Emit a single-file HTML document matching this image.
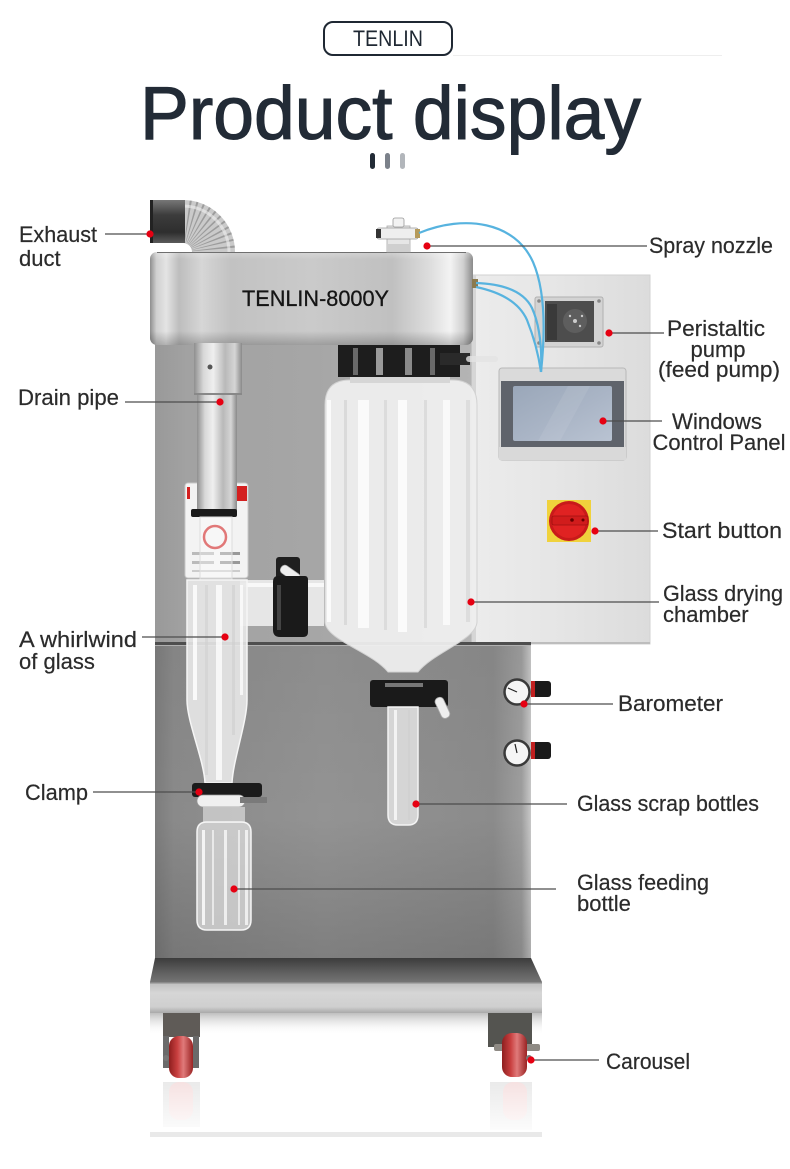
<!DOCTYPE html>
<html><head><meta charset="utf-8">
<style>
html,body{margin:0;padding:0;background:#fff;}
svg{display:block;}
</style></head><body>
<svg width="790" height="1169" viewBox="0 0 790 1169" xmlns="http://www.w3.org/2000/svg" font-family="'Liberation Sans', sans-serif">
<defs>
 <linearGradient id="lowerBody" x1="0" x2="1" y1="0" y2="0">
   <stop offset="0" stop-color="#7c7c7c"/>
   <stop offset="0.05" stop-color="#8a8a8a"/>
   <stop offset="0.45" stop-color="#939393"/>
   <stop offset="0.9" stop-color="#8b8b8b"/>
   <stop offset="0.975" stop-color="#9e9e9e"/>
   <stop offset="1" stop-color="#c8c8c8"/>
 </linearGradient>
 <linearGradient id="lowerShade" x1="0" x2="0" y1="0" y2="1">
   <stop offset="0" stop-color="#000" stop-opacity="0.04"/>
   <stop offset="0.55" stop-color="#000" stop-opacity="0"/>
   <stop offset="1" stop-color="#000" stop-opacity="0.14"/>
 </linearGradient>
 <linearGradient id="upperBody" x1="0" x2="1">
   <stop offset="0" stop-color="#999"/>
   <stop offset="0.1" stop-color="#a2a2a2"/>
   <stop offset="0.5" stop-color="#a6a6a6"/>
   <stop offset="1" stop-color="#b4b4b4"/>
 </linearGradient>
 <linearGradient id="panel" x1="0" x2="1">
   <stop offset="0" stop-color="#ececec"/>
   <stop offset="0.5" stop-color="#e5e5e5"/>
   <stop offset="1" stop-color="#dcdcdc"/>
 </linearGradient>
 <linearGradient id="head" x1="0" x2="1">
   <stop offset="0" stop-color="#8e8e8e"/>
   <stop offset="0.02" stop-color="#d0d0d0"/>
   <stop offset="0.05" stop-color="#e4e4e4"/>
   <stop offset="0.09" stop-color="#bdbdbd"/>
   <stop offset="0.16" stop-color="#d6d6d6"/>
   <stop offset="0.25" stop-color="#c2c2c2"/>
   <stop offset="0.5" stop-color="#cacaca"/>
   <stop offset="0.75" stop-color="#c0c0c0"/>
   <stop offset="0.87" stop-color="#dedede"/>
   <stop offset="0.93" stop-color="#f3f3f3"/>
   <stop offset="0.97" stop-color="#d0d0d0"/>
   <stop offset="1" stop-color="#8a8a8a"/>
 </linearGradient>
 <linearGradient id="headV" x1="0" x2="0" y1="0" y2="1">
   <stop offset="0" stop-color="#fff" stop-opacity="0.25"/>
   <stop offset="0.08" stop-color="#fff" stop-opacity="0"/>
   <stop offset="0.85" stop-color="#000" stop-opacity="0"/>
   <stop offset="1" stop-color="#000" stop-opacity="0.22"/>
 </linearGradient>
 <linearGradient id="pipe" x1="0" x2="1">
   <stop offset="0" stop-color="#8f8f8f"/>
   <stop offset="0.2" stop-color="#d8d8d8"/>
   <stop offset="0.4" stop-color="#efefef"/>
   <stop offset="0.65" stop-color="#b9b9b9"/>
   <stop offset="0.85" stop-color="#d5d5d5"/>
   <stop offset="1" stop-color="#8a8a8a"/>
 </linearGradient>
 <linearGradient id="duct" x1="0" x2="0" y1="0" y2="1">
   <stop offset="0" stop-color="#777"/>
   <stop offset="0.35" stop-color="#3c3c3c"/>
   <stop offset="0.75" stop-color="#2e2e2e"/>
   <stop offset="1" stop-color="#5a5a5a"/>
 </linearGradient>
 <linearGradient id="rim" x1="0" x2="0" y1="0" y2="1">
   <stop offset="0" stop-color="#3c3c3c"/>
   <stop offset="0.5" stop-color="#5a5a5a"/>
   <stop offset="1" stop-color="#747474"/>
 </linearGradient>
 <linearGradient id="trayFront" x1="0" x2="0" y1="0" y2="1">
   <stop offset="0" stop-color="#bdbdbd"/>
   <stop offset="0.35" stop-color="#d6d6d6"/>
   <stop offset="0.8" stop-color="#cfcfcf"/>
   <stop offset="1" stop-color="#a9a9a9"/>
 </linearGradient>
 <linearGradient id="trayShadow" x1="0" x2="0" y1="0" y2="1">
   <stop offset="0" stop-color="#8a8a8a" stop-opacity="0.55"/>
   <stop offset="1" stop-color="#fff" stop-opacity="0"/>
 </linearGradient>
 <linearGradient id="screen" x1="0" x2="1" y1="0" y2="1">
   <stop offset="0" stop-color="#9aa7b9"/>
   <stop offset="0.55" stop-color="#aab5c6"/>
   <stop offset="1" stop-color="#b9c3d2"/>
 </linearGradient>
 <linearGradient id="wheel" x1="0" x2="1">
   <stop offset="0" stop-color="#8e1e1e"/>
   <stop offset="0.35" stop-color="#c94040"/>
   <stop offset="0.6" stop-color="#e07a7a"/>
   <stop offset="1" stop-color="#9a2323"/>
 </linearGradient>
 <linearGradient id="refl" x1="0" x2="0" y1="0" y2="1">
   <stop offset="0" stop-color="#fff" stop-opacity="0.2"/>
   <stop offset="1" stop-color="#fff" stop-opacity="0.95"/>
 </linearGradient>
</defs>

<!-- ===== Header ===== -->
<rect x="324" y="22" width="128" height="33" rx="9" fill="#fff" stroke="#1f2833" stroke-width="2"/>
<line x1="453" y1="55.5" x2="722" y2="55.5" stroke="#eeeeee" stroke-width="1"/>
<text x="353" y="46" font-size="22" fill="#1f2833" textLength="70" lengthAdjust="spacingAndGlyphs">TENLIN</text>
<text x="140" y="139" font-size="75" fill="#222b36" stroke="#222b36" stroke-width="1.1" textLength="501" lengthAdjust="spacingAndGlyphs">Product display</text>
<rect x="370" y="153" width="5" height="16" rx="2.5" fill="#222b36"/>
<rect x="385" y="153" width="5" height="16" rx="2.5" fill="#7b818a"/>
<rect x="400" y="153" width="5" height="16" rx="2.5" fill="#b2b6bb"/>

<!-- ===== Reflections ===== -->
<g opacity="0.22">
  <rect x="163" y="1082" width="37" height="45" fill="#888"/>
  <rect x="169" y="1082" width="24" height="38" rx="10" fill="#c55"/>
  <rect x="490" y="1082" width="42" height="48" fill="#888"/>
  <rect x="503" y="1082" width="24" height="38" rx="10" fill="#c55"/>
</g>
<rect x="150" y="1080" width="392" height="55" fill="url(#refl)"/>
<rect x="150" y="1132" width="392" height="5" fill="#e9e9e9"/>

<!-- ===== Body ===== -->
<rect x="155" y="343" width="320" height="302" fill="url(#upperBody)"/>
<rect x="472" y="275" width="178" height="369" fill="url(#panel)" stroke="#d2d2d2" stroke-width="1"/>
<rect x="472" y="275" width="4" height="369" fill="#d6d6d6"/>
<rect x="472" y="642" width="178" height="2" fill="#bdbdbd"/>
<rect x="155" y="644" width="376" height="316" fill="url(#lowerBody)"/>
<rect x="155" y="644" width="376" height="316" fill="url(#lowerShade)"/>
<rect x="155" y="642" width="376" height="3" fill="#4e4e4e"/>
<rect x="155" y="645" width="376" height="1" fill="#b0b0b0"/>

<!-- tray -->
<polygon points="155,958 531,958 542,982 150,982" fill="url(#rim)"/>
<rect x="150" y="982" width="392" height="31" fill="url(#trayFront)"/>
<rect x="150" y="982" width="392" height="1.5" fill="#8a8a8a"/>
<rect x="150" y="1013" width="392" height="22" fill="url(#trayShadow)"/>

<!-- casters -->
<rect x="163" y="1013" width="37" height="24" fill="#5f5b57"/>
<rect x="163" y="1036" width="6" height="32" fill="#6a6a6a"/>
<rect x="193" y="1036" width="6" height="32" fill="#6a6a6a"/>
<rect x="169" y="1036" width="24" height="42" rx="10" fill="url(#wheel)"/>
<circle cx="166" cy="1058" r="3" fill="#777"/>
<rect x="488" y="1013" width="44" height="34" fill="#545450"/>
<rect x="494" y="1044" width="46" height="7" rx="2" fill="#8e8a84"/>
<rect x="502" y="1033" width="25" height="44" rx="10" fill="url(#wheel)"/>
<circle cx="529" cy="1058" r="3" fill="#777"/>

<!-- ===== Exhaust duct & hose ===== -->
<path d="M183,221.5 A30.5,30.5 0 0 1 213.5,252" fill="none" stroke="#cacaca" stroke-width="43"/>
<path d="M183,221.5 A30.5,30.5 0 0 1 213.5,252" fill="none" stroke="#6e6e6e" stroke-width="43" stroke-dasharray="1.2 2.8" opacity="0.5"/>
<path d="M183,206 A46,46 0 0 1 229,252" fill="none" stroke="#eee" stroke-width="3" opacity="0.6"/>
<rect x="150" y="200" width="35" height="43" fill="url(#duct)"/>
<rect x="150" y="200" width="3" height="43" fill="#222"/>

<!-- ===== Head ===== -->
<rect x="150" y="252" width="323" height="93" rx="7" fill="url(#head)"/>
<rect x="150" y="252" width="323" height="93" rx="7" fill="url(#headV)"/>
<path d="M157,252.5 L466,252.5" stroke="#6f6f6f" stroke-width="1"/>
<text x="242" y="306" font-size="22" fill="#151515" stroke="#151515" stroke-width="0.3" textLength="147" lengthAdjust="spacingAndGlyphs">TENLIN-8000Y</text>

<!-- nozzle -->
<rect x="387" y="226" width="23" height="26" fill="#e6e6e6" stroke="#aaa" stroke-width="0.8"/>
<rect x="377" y="228" width="41" height="11" rx="2" fill="#eeeeee" stroke="#999" stroke-width="0.8"/>
<rect x="376" y="229" width="5" height="9" fill="#333"/>
<rect x="415" y="229" width="5" height="9" fill="#b59a5a"/>
<rect x="393" y="218" width="11" height="9" rx="2" fill="#f2f2f2" stroke="#999" stroke-width="0.8"/>
<rect x="387" y="244" width="23" height="8" fill="#cfcfcf"/>

<!-- ===== Control panel parts ===== -->
<rect x="472" y="279" width="6" height="9" fill="#8b7a4e"/>
<rect x="535" y="297" width="68" height="50" rx="2" fill="#d3d3d3" stroke="#b0b0b0" stroke-width="1"/>
<rect x="545" y="301" width="49" height="41" fill="#4d4d4d"/>
<rect x="547" y="304" width="10" height="36" fill="#3a3a3a"/>
<circle cx="575" cy="321" r="12" fill="#5e5e5e"/>
<circle cx="575" cy="321" r="2" fill="#ccc"/><circle cx="570" cy="316" r="1.2" fill="#ccc"/><circle cx="580" cy="326" r="1.2" fill="#ccc"/><circle cx="582" cy="316" r="1.2" fill="#ccc"/>
<circle cx="539" cy="301" r="1.8" fill="#888"/><circle cx="599" cy="301" r="1.8" fill="#888"/><circle cx="539" cy="343" r="1.8" fill="#888"/><circle cx="599" cy="343" r="1.8" fill="#888"/>

<rect x="499" y="368" width="127" height="92" rx="3" fill="#dadada" stroke="#b8b8b8" stroke-width="1"/>
<rect x="501" y="381" width="123" height="66" fill="#5f636b"/>
<rect x="513" y="386" width="99" height="55" rx="2" fill="url(#screen)"/>
<polygon points="568,386 590,386 560,441 538,441" fill="#ffffff" opacity="0.08"/>
<rect x="499" y="447" width="127" height="13" fill="#d9d9d9"/>

<rect x="547" y="500" width="44" height="42" fill="#f0d23c"/>
<circle cx="569" cy="521" r="20" fill="#c81a1a"/>
<circle cx="569" cy="521" r="17" fill="#e02222"/>
<rect x="552" y="516" width="36" height="9" rx="2" fill="#d11c1c" stroke="#a01010" stroke-width="0.8"/>
<circle cx="572" cy="520" r="1.8" fill="#600"/>
<circle cx="583" cy="520" r="1.5" fill="#600"/>

<!-- gauges -->
<circle cx="517" cy="692" r="12.5" fill="#f5f5f5" stroke="#3a3a3a" stroke-width="2.5"/>
<line x1="517" y1="692" x2="508" y2="688" stroke="#222" stroke-width="1.2"/>
<rect x="531" y="681" width="20" height="16" rx="3" fill="#1a1a1a"/>
<rect x="531" y="681" width="4" height="16" fill="#c02020"/>
<circle cx="517" cy="753" r="12.5" fill="#f5f5f5" stroke="#3a3a3a" stroke-width="2.5"/>
<line x1="517" y1="753" x2="515" y2="744" stroke="#222" stroke-width="1.2"/>
<rect x="531" y="742" width="20" height="17" rx="3" fill="#1a1a1a"/>
<rect x="531" y="742" width="4" height="17" fill="#c02020"/>

<!-- ===== Glass drying chamber ===== -->
<path d="M350,380 Q325,380 325,405 L325,622 C326,640 372,652 388,672 L418,672 C434,652 476,640 477,622 L477,405 Q477,380 452,380 Z" fill="#efefef" fill-opacity="0.94" stroke="#d2d2d2" stroke-width="1"/>
<g>
  <rect x="327" y="400" width="4" height="222" fill="#fff" opacity="0.8"/>
  <rect x="344" y="400" width="3" height="225" fill="#cfcfcf" opacity="0.6"/>
  <rect x="358" y="400" width="11" height="228" fill="#fff" opacity="0.75"/>
  <rect x="384" y="400" width="3" height="230" fill="#d2d2d2" opacity="0.6"/>
  <rect x="398" y="400" width="9" height="232" fill="#fff" opacity="0.8"/>
  <rect x="424" y="400" width="3" height="228" fill="#cfcfcf" opacity="0.55"/>
  <rect x="443" y="400" width="7" height="225" fill="#fff" opacity="0.7"/>
  <rect x="466" y="400" width="4" height="222" fill="#d4d4d4" opacity="0.6"/>
</g>
<rect x="338" y="345" width="122" height="32" fill="#1d1d1d"/>
<rect x="353" y="348" width="5" height="27" fill="#6a6a6a"/>
<rect x="376" y="348" width="7" height="27" fill="#9a9a9a"/>
<rect x="405" y="348" width="7" height="27" fill="#8a8a8a"/>
<rect x="430" y="348" width="5" height="27" fill="#6a6a6a"/>
<rect x="440" y="353" width="30" height="12" fill="#2a2a2a"/>
<rect x="466" y="356" width="32" height="6" rx="3" fill="#e3e3e3" opacity="0.8"/>
<rect x="350" y="377" width="100" height="6" fill="#d6d6d6"/>
<rect x="370" y="680" width="78" height="27" rx="3" fill="#1a1a1a"/>
<rect x="385" y="683" width="38" height="4" fill="#777"/>
<rect x="438" y="697" width="9" height="22" rx="4" fill="#eeeeee" stroke="#aaa" stroke-width="0.8" transform="rotate(-25 442 708)"/>
<path d="M388,707 L418,707 L418,815 Q418,825 408,825 L398,825 Q388,825 388,815 Z" fill="#e2e2e2" fill-opacity="0.85" stroke="#f4f4f4" stroke-width="1.5"/>
<rect x="394" y="710" width="3" height="110" fill="#fff" opacity="0.7"/>
<rect x="408" y="710" width="2" height="110" fill="#cfcfcf" opacity="0.7"/>

<!-- ===== Cyclone ===== -->
<rect x="185" y="483" width="63" height="95" rx="3" fill="#f3f3f3" stroke="#c8c8c8" stroke-width="1"/>
<rect x="236" y="486" width="11" height="15" fill="#d42020"/>
<rect x="187" y="487" width="3" height="12" fill="#d42020"/>
<circle cx="215" cy="537" r="11" fill="none" stroke="#d23030" stroke-width="2.5"/>
<rect x="192" y="552" width="22" height="3" fill="#bbb"/><rect x="220" y="552" width="20" height="3" fill="#999"/>
<rect x="192" y="561" width="22" height="3" fill="#bbb"/><rect x="220" y="561" width="20" height="3" fill="#999"/>
<rect x="192" y="570" width="48" height="2" fill="#ccc"/>
<rect x="194" y="343" width="48" height="52" fill="url(#pipe)"/>
<rect x="197" y="395" width="40" height="115" fill="url(#pipe)"/>
<rect x="194" y="393" width="48" height="2" fill="#888"/>
<circle cx="210" cy="367" r="2.5" fill="#555"/>
<rect x="191" y="509" width="46" height="8" rx="2" fill="#1a1a1a"/>
<rect x="200" y="517" width="32" height="63" fill="#ffffff" fill-opacity="0.35" stroke="#dddddd" stroke-width="1"/>

<rect x="240" y="580" width="84" height="46" fill="#ececec" fill-opacity="0.92"/>
<rect x="240" y="583" width="84" height="4" fill="#fff" opacity="0.7"/>
<rect x="276" y="557" width="24" height="22" rx="3" fill="#1f1f1f"/>
<rect x="286" y="563" width="9" height="22" rx="4" fill="#eeeeee" stroke="#aaa" stroke-width="0.7" transform="rotate(-55 290 574)"/>
<path d="M278,576 L305,576 Q308,576 308,580 L308,632 Q308,637 303,637 L280,637 Q273,637 273,630 L273,582 Q273,576 278,576 Z" fill="#1a1a1a"/>
<rect x="277" y="585" width="4" height="45" fill="#444"/>

<path d="M187,580 L247,580 L247,700 C247,722 233,760 232,783 L205,783 C204,760 187,722 187,700 Z" fill="#e8e8e8" fill-opacity="0.9" stroke="#f6f6f6" stroke-width="1.5"/>
<rect x="193" y="585" width="4" height="115" fill="#fff" opacity="0.8"/>
<rect x="205" y="585" width="3" height="190" fill="#d0d0d0" opacity="0.6"/>
<rect x="216" y="585" width="6" height="195" fill="#fff" opacity="0.75"/>
<rect x="232" y="585" width="3" height="150" fill="#cfcfcf" opacity="0.6"/>
<rect x="240" y="585" width="3" height="110" fill="#fff" opacity="0.7"/>

<rect x="192" y="783" width="70" height="14" rx="3" fill="#1b1b1b"/>
<rect x="197" y="795" width="48" height="12" rx="6" fill="#f0f0f0" stroke="#999" stroke-width="0.7"/>
<rect x="240" y="797" width="27" height="6" fill="#7a7a7a"/>
<rect x="203" y="807" width="42" height="16" fill="#d5d5d5" fill-opacity="0.75"/>
<path d="M197,832 Q197,822 207,822 L241,822 Q251,822 251,832 L251,920 Q251,930 241,930 L207,930 Q197,930 197,920 Z" fill="#e0e0e0" fill-opacity="0.72" stroke="#f5f5f5" stroke-width="1.5"/>
<rect x="202" y="830" width="3" height="95" fill="#fff" opacity="0.8"/>
<rect x="212" y="830" width="2" height="95" fill="#fff" opacity="0.6"/>
<rect x="224" y="830" width="3" height="95" fill="#fff" opacity="0.7"/>
<rect x="238" y="830" width="2" height="95" fill="#fff" opacity="0.6"/>
<rect x="245" y="830" width="3" height="95" fill="#fff" opacity="0.7"/>

<!-- ===== Blue tubes ===== -->
<g fill="none" stroke="#57b3df" stroke-width="2.2">
  <path d="M419,233 C465,214 515,222 533,262 C546,292 545,335 541,372"/>
  <path d="M476,283 C505,284 524,292 532,308 C540,326 542,350 541,372"/>
  <path d="M476,287 C500,292 519,302 527,320 C535,340 539,358 541,372"/>
</g>

<!-- ===== Callout lines & dots ===== -->
<g stroke="#4d4d4d" stroke-width="1.2">
  <line x1="105" y1="234" x2="150" y2="234"/>
  <line x1="125" y1="402" x2="220" y2="402"/>
  <line x1="142" y1="637" x2="225" y2="637"/>
  <line x1="93" y1="792" x2="199" y2="792"/>
  <line x1="427" y1="246" x2="647" y2="246"/>
  <line x1="609" y1="333" x2="664" y2="333"/>
  <line x1="603" y1="421" x2="662" y2="421"/>
  <line x1="595" y1="531" x2="658" y2="531"/>
  <line x1="471" y1="602" x2="659" y2="602"/>
  <line x1="524" y1="704" x2="613" y2="704"/>
  <line x1="416" y1="804" x2="567" y2="804"/>
  <line x1="234" y1="889" x2="556" y2="889"/>
  <line x1="531" y1="1060" x2="599" y2="1060"/>
</g>
<g fill="#e60012">
  <circle cx="150" cy="234" r="3.6"/>
  <circle cx="220" cy="402" r="3.6"/>
  <circle cx="225" cy="637" r="3.6"/>
  <circle cx="199" cy="792" r="3.6"/>
  <circle cx="427" cy="246" r="3.6"/>
  <circle cx="609" cy="333" r="3.6"/>
  <circle cx="603" cy="421" r="3.6"/>
  <circle cx="595" cy="531" r="3.6"/>
  <circle cx="471" cy="602" r="3.6"/>
  <circle cx="524" cy="704" r="3.6"/>
  <circle cx="416" cy="804" r="3.6"/>
  <circle cx="234" cy="889" r="3.6"/>
  <circle cx="531" cy="1060" r="3.6"/>
</g>

<!-- ===== Labels ===== -->
<g font-size="22" fill="#2b2b2b" stroke="#2b2b2b" stroke-width="0.2">
  <text x="19" y="242" textLength="78" lengthAdjust="spacingAndGlyphs">Exhaust</text>
  <text x="19" y="266">duct</text>
  <text x="18" y="405" textLength="101" lengthAdjust="spacingAndGlyphs">Drain pipe</text>
  <text x="19" y="647" textLength="118" lengthAdjust="spacingAndGlyphs">A whirlwind</text>
  <text x="19" y="669">of glass</text>
  <text x="25" y="800" textLength="63" lengthAdjust="spacingAndGlyphs">Clamp</text>

  <text x="649" y="253" textLength="124" lengthAdjust="spacingAndGlyphs">Spray nozzle</text>
  <text x="716" y="336" text-anchor="middle" textLength="98" lengthAdjust="spacingAndGlyphs">Peristaltic</text>
  <text x="718" y="357" text-anchor="middle">pump</text>
  <text x="719" y="377" text-anchor="middle" textLength="122" lengthAdjust="spacingAndGlyphs">(feed pump)</text>
  <text x="717" y="429" text-anchor="middle" textLength="90" lengthAdjust="spacingAndGlyphs">Windows</text>
  <text x="719" y="450" text-anchor="middle" textLength="133" lengthAdjust="spacingAndGlyphs">Control Panel</text>
  <text x="662" y="538" textLength="120" lengthAdjust="spacingAndGlyphs">Start button</text>
  <text x="663" y="601" textLength="120" lengthAdjust="spacingAndGlyphs">Glass drying</text>
  <text x="663" y="622">chamber</text>
  <text x="618" y="711" textLength="105" lengthAdjust="spacingAndGlyphs">Barometer</text>
  <text x="577" y="811" textLength="182" lengthAdjust="spacingAndGlyphs">Glass scrap bottles</text>
  <text x="577" y="890" textLength="132" lengthAdjust="spacingAndGlyphs">Glass feeding</text>
  <text x="577" y="911">bottle</text>
  <text x="606" y="1069" textLength="84" lengthAdjust="spacingAndGlyphs">Carousel</text>
</g>
</svg>
</body></html>
